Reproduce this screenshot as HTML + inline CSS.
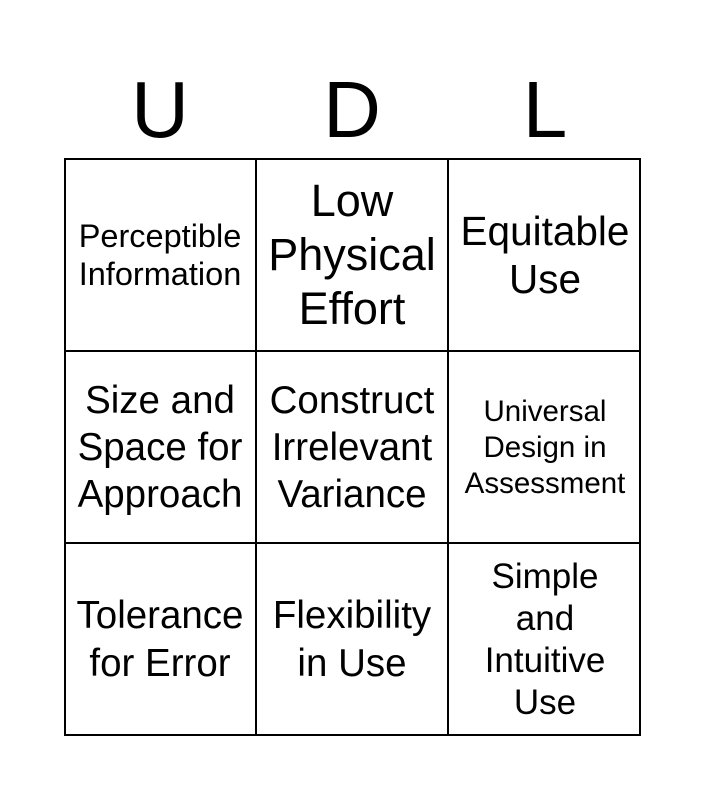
<!DOCTYPE html>
<html><head><style>
body{margin:0;background:#fff;width:705px;height:800px;position:relative;font-family:"Liberation Sans",sans-serif;overflow:hidden}
.h{position:absolute;top:62px;font-size:80px;width:192px;text-align:center;line-height:96px}
.g{position:absolute;left:64px;top:158px;width:577px;height:578px;border:2px solid #000;box-sizing:border-box}
.c{position:absolute;display:flex;align-items:center;justify-content:center;text-align:center;width:192px;height:193px;box-sizing:border-box;white-space:nowrap}
.vl{position:absolute;top:158px;height:578px;width:2px;background:#000}
.hl{position:absolute;left:64px;width:577px;height:2px;background:#000}
</style></head><body>
<div class="h" style="left:64px">U</div>
<div class="h" style="left:256px">D</div>
<div class="h" style="left:449px">L</div>
<div class="g"></div>
<div class="vl" style="left:255px"></div>
<div class="vl" style="left:447px"></div>
<div class="hl" style="top:350px"></div>
<div class="hl" style="top:542px"></div>

<div class="c" style="left:64px;top:158px;font-size:32.5px;line-height:38px">Perceptible<br>Information</div>
<div class="c" style="left:256px;top:158px;font-size:45px;line-height:54px">Low<br>Physical<br>Effort</div>
<div class="c" style="left:449px;top:158px;font-size:40.5px;line-height:48px">Equitable<br>Use</div>

<div class="c" style="left:64px;top:351px;font-size:38.5px;line-height:47px">Size and<br>Space for<br>Approach</div>
<div class="c" style="left:256px;top:351px;font-size:38.5px;line-height:47px">Construct<br>Irrelevant<br>Variance</div>
<div class="c" style="left:449px;top:351px;font-size:29.5px;line-height:36px">Universal<br>Design in<br>Assessment</div>

<div class="c" style="left:64px;top:543px;font-size:38.5px;line-height:48px">Tolerance<br>for Error</div>
<div class="c" style="left:256px;top:543px;font-size:38.5px;line-height:48px">Flexibility<br>in Use</div>
<div class="c" style="left:449px;top:543px;font-size:35px;line-height:42px">Simple<br>and<br>Intuitive<br>Use</div>
</body></html>
